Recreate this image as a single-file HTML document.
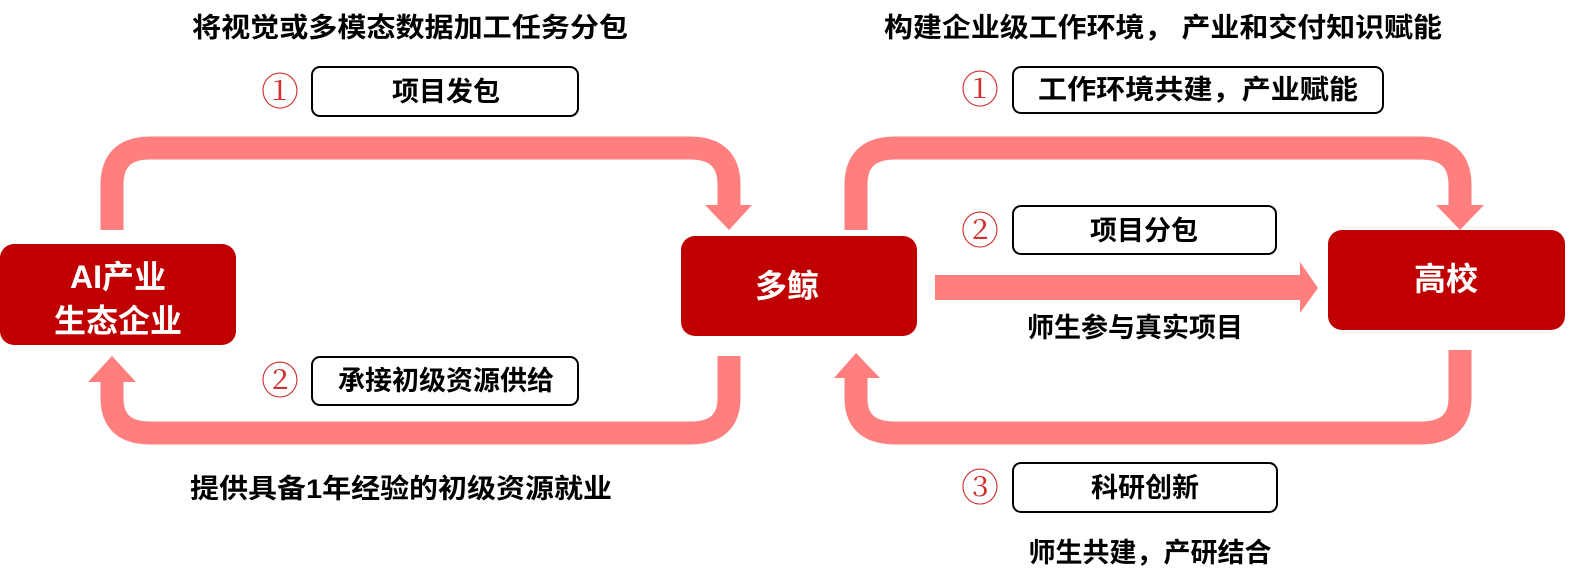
<!DOCTYPE html>
<html><head><meta charset="utf-8"><style>
html,body{margin:0;padding:0;background:#fff;}
svg{display:block;}
text{font-family:"Liberation Sans","Noto Sans CJK SC",sans-serif;font-weight:bold;}
</style></head><body>
<svg width="1579" height="575" viewBox="0 0 1579 575" xmlns="http://www.w3.org/2000/svg">
<g fill="none" stroke="#ff7f7f" stroke-width="23">
<path d="M112 230 V185 Q112 148 150 148 H690 Q729 148 729 185 V206"/>
<path d="M729 356 V398 Q729 433 690 433 H150 Q112 433 112 398 V380"/>
<path d="M856 230 V185 Q856 148 895 148 H1420 Q1460 148 1460 185 V206"/>
<path d="M1460 350 V398 Q1460 433 1420 433 H895 Q856 433 856 398 V378"/>
</g>
<g fill="#ff7f7f">
<polygon points="705,205 752,205 729,230"/>
<polygon points="88,382 136,382 112,356"/>
<polygon points="1436,205 1484,205 1460,230"/>
<polygon points="834,378 880,378 856,353"/>
<polygon points="935,275 1300,275 1300,262 1318,288 1300,313 1300,300 935,300"/>
</g>
<rect x="0" y="244" width="236" height="101" rx="14" fill="#c00000"/>
<rect x="681" y="236" width="236" height="100" rx="14" fill="#c00000"/>
<rect x="1328" y="230" width="237" height="100" rx="14" fill="#c00000"/>
<g fill="#fff" font-size="32" text-anchor="middle">
<text x="118" y="288">AI产业</text>
<text x="118" y="332">生态企业</text>
<text x="787" y="297">多鲸</text>
<text x="1446" y="290">高校</text>
</g>
<g fill="#fff" stroke="#000" stroke-width="2">
<rect x="312" y="67" width="266" height="49" rx="8"/>
<rect x="312" y="357" width="266" height="48" rx="8"/>
<rect x="1013" y="67" width="370" height="46" rx="8"/>
<rect x="1013" y="206" width="263" height="48" rx="8"/>
<rect x="1013" y="463" width="264" height="49" rx="8"/>
</g>
<g fill="#000" font-size="27" text-anchor="middle">
<text x="446" y="101">项目发包</text>
<text x="446" y="390">承接初级资源供给</text>
<text x="1198" y="99" textLength="320" lengthAdjust="spacingAndGlyphs">工作环境共建，产业赋能</text>
<text x="1144" y="240">项目分包</text>
<text x="1145" y="497">科研创新</text>
<text x="410" y="37" textLength="436" lengthAdjust="spacingAndGlyphs">将视觉或多模态数据加工任务分包</text>
<text x="1163" y="37" textLength="558" lengthAdjust="spacingAndGlyphs">构建企业级工作环境， 产业和交付知识赋能</text>
<text x="401" y="498" textLength="422" lengthAdjust="spacingAndGlyphs">提供具备1年经验的初级资源就业</text>
<text x="1135" y="337">师生参与真实项目</text>
<text x="1150" y="562">师生共建，产研结合</text>
</g>
<g fill="#d03030" font-size="38" text-anchor="middle">
<text x="280" y="105" style="font-weight:normal;font-family:'Noto Serif CJK SC','Liberation Serif',serif">①</text>
<text x="280" y="394" style="font-weight:normal;font-family:'Noto Serif CJK SC','Liberation Serif',serif">②</text>
<text x="980" y="103" style="font-weight:normal;font-family:'Noto Serif CJK SC','Liberation Serif',serif">①</text>
<text x="980" y="244" style="font-weight:normal;font-family:'Noto Serif CJK SC','Liberation Serif',serif">②</text>
<text x="980" y="501" style="font-weight:normal;font-family:'Noto Serif CJK SC','Liberation Serif',serif">③</text>
</g>
</svg>
</body></html>
